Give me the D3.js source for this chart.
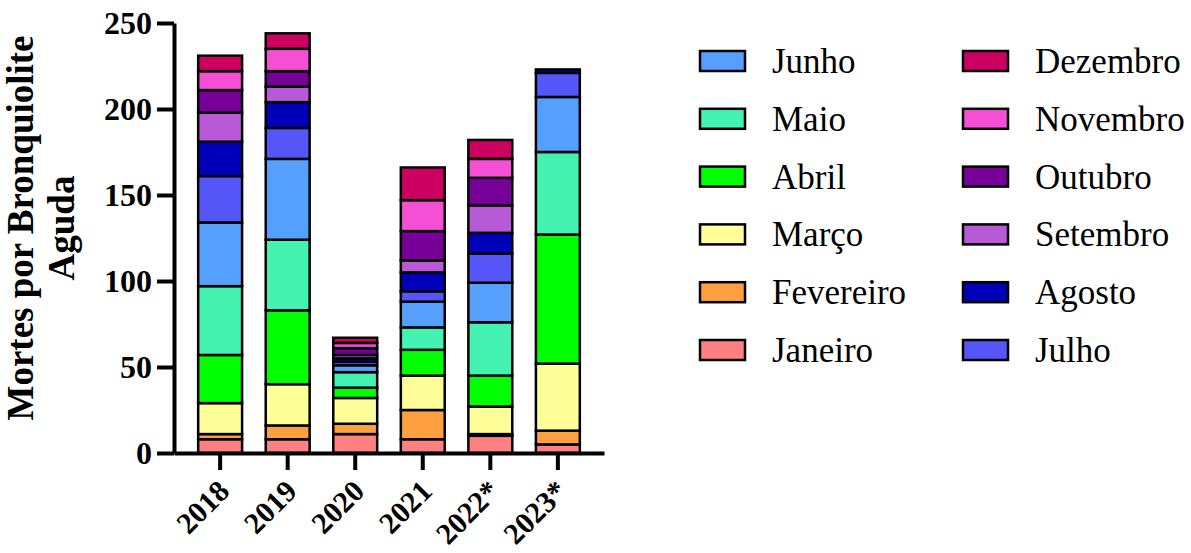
<!DOCTYPE html>
<html>
<head>
<meta charset="utf-8">
<script src="https://cdn.jsdelivr.net/npm/d3@7"></script>
<style>
  html, body { margin: 0; padding: 0; background: #fff; }
  svg { display: block; }
</style>
</head>
<body>
<svg id="chart" width="1191" height="553"></svg>
<script>
// ---- Data ----
const years = ["2018", "2019", "2020", "2021", "2022*", "2023*"];
const months = ["Janeiro", "Fevereiro", "Março", "Abril", "Maio", "Junho",
                "Julho", "Agosto", "Setembro", "Outubro", "Novembro", "Dezembro"];
const janeiro   = [8, 8, 11, 8, 10, 5];
const fevereiro = [3, 8, 6, 17, 1, 8];
const marco     = [18, 24, 15, 20, 16, 39];
const abril     = [28, 43, 6, 15, 18, 75];
const maio      = [40, 41, 9, 13, 31, 48];
const junho     = [37, 47, 4, 15, 23, 32];
const julho     = [27, 18, 2, 6, 17, 14];
const agosto    = [20, 15, 2, 11, 12, 2];
const setembro  = [17, 9, 2, 7, 16, 0];
const outubro   = [13, 9, 4, 17, 16, 0];
const novembro  = [11, 13, 3, 18, 11, 0];
const dezembro  = [9, 9, 3, 19, 11, 0];
const yTicks = [0, 50, 100, 150, 200, 250];
const colors = ["#FF8080", "#FFA040", "#FFFF99", "#00FF00", "#44F2B2", "#55A0FF",
                "#5555F8", "#0000BB", "#B85AD8", "#770099", "#F550D5", "#CC0060"];
const legendCol1 = ["Junho", "Maio", "Abril", "Março", "Fevereiro", "Janeiro"];
const legendCol2 = ["Dezembro", "Novembro", "Outubro", "Setembro", "Agosto", "Julho"];

const seriesArrays = [janeiro, fevereiro, marco, abril, maio, junho,
                      julho, agosto, setembro, outubro, novembro, dezembro];
const table = years.map((yr, i) => {
  const row = { year: yr };
  months.forEach((m, j) => { row[m] = seriesArrays[j][i]; });
  return row;
});

// ---- Layout ----
const svg = d3.select("#chart");
const FONT = "'Liberation Serif', 'Times New Roman', serif";
const x0 = 174, x1 = 604, yTop = 23, yBot = 453;

const x = d3.scaleBand().domain(years).range([x0, x1])
  .paddingInner(0.35).paddingOuter(0.358).align(0.5);
const y = d3.scaleLinear().domain([0, 250]).range([yBot, yTop]);
const color = d3.scaleOrdinal().domain(months).range(colors);

const stack = d3.stack().keys(months);
const series = stack(table);

// Bars
const gBars = svg.append("g");
gBars.selectAll("g.layer").data(series).join("g")
  .attr("class", "layer")
  .attr("fill", d => color(d.key))
  .selectAll("rect").data(d => d).join("rect")
  .attr("x", d => x(d.data.year))
  .attr("width", x.bandwidth())
  .attr("y", d => y(d[1]))
  .attr("height", d => Math.max(0, y(d[0]) - y(d[1])))
  .attr("stroke", d => (d[1] - d[0]) > 0 ? "#000" : "none")
  .attr("stroke-width", 2.5);

// Y axis
const gy = svg.append("g").attr("transform", `translate(${x0},0)`)
  .call(d3.axisLeft(y).tickValues(yTicks).tickSize(17).tickSizeOuter(0).tickPadding(5));
gy.select(".domain").attr("stroke-width", 4).attr("stroke", "#000");
gy.selectAll(".tick line").attr("stroke-width", 4).attr("stroke", "#000");
gy.selectAll(".tick text")
  .attr("font-family", FONT).attr("font-weight", "bold").attr("font-size", 32)
  .attr("fill", "#000");

// X axis
const gx = svg.append("g").attr("transform", `translate(0,${yBot})`)
  .call(d3.axisBottom(x).tickSize(17).tickSizeOuter(0));
gx.select(".domain").attr("stroke-width", 4).attr("stroke", "#000");
gx.selectAll(".tick line").attr("stroke-width", 4).attr("stroke", "#000");
gx.selectAll(".tick text")
  .attr("font-family", FONT).attr("font-weight", "bold").attr("font-size", 30)
  .attr("fill", "#000")
  .attr("x", 0).attr("y", 0).attr("dy", 0)
  .attr("text-anchor", "end")
  .attr("transform", "translate(11,40) rotate(-45)");

// Y title
const title = svg.append("text")
  .attr("transform", "translate(33,228) rotate(-90)")
  .attr("text-anchor", "middle")
  .attr("font-family", FONT).attr("font-weight", "bold").attr("font-size", 37)
  .attr("fill", "#000");
title.append("tspan").attr("x", 0).attr("y", 0).text("Mortes por Bronquiolite");
title.append("tspan").attr("x", 0).attr("y", 41).text("Aguda");

// Legend
const legend = svg.append("g");
function drawLegendCol(items, sx, tx) {
  items.forEach((m, i) => {
    const cy = 61 + i * 57.8;
    legend.append("rect")
      .attr("x", sx).attr("y", cy - 10).attr("width", 45).attr("height", 20)
      .attr("fill", color(m)).attr("stroke", "#000").attr("stroke-width", 2.5);
    legend.append("text")
      .attr("x", tx).attr("y", cy + 12)
      .attr("font-family", FONT).attr("font-size", 35).attr("fill", "#000")
      .text(m);
  });
}
drawLegendCol(legendCol1, 700, 772);
drawLegendCol(legendCol2, 963, 1035);
</script>
</body>
</html>
